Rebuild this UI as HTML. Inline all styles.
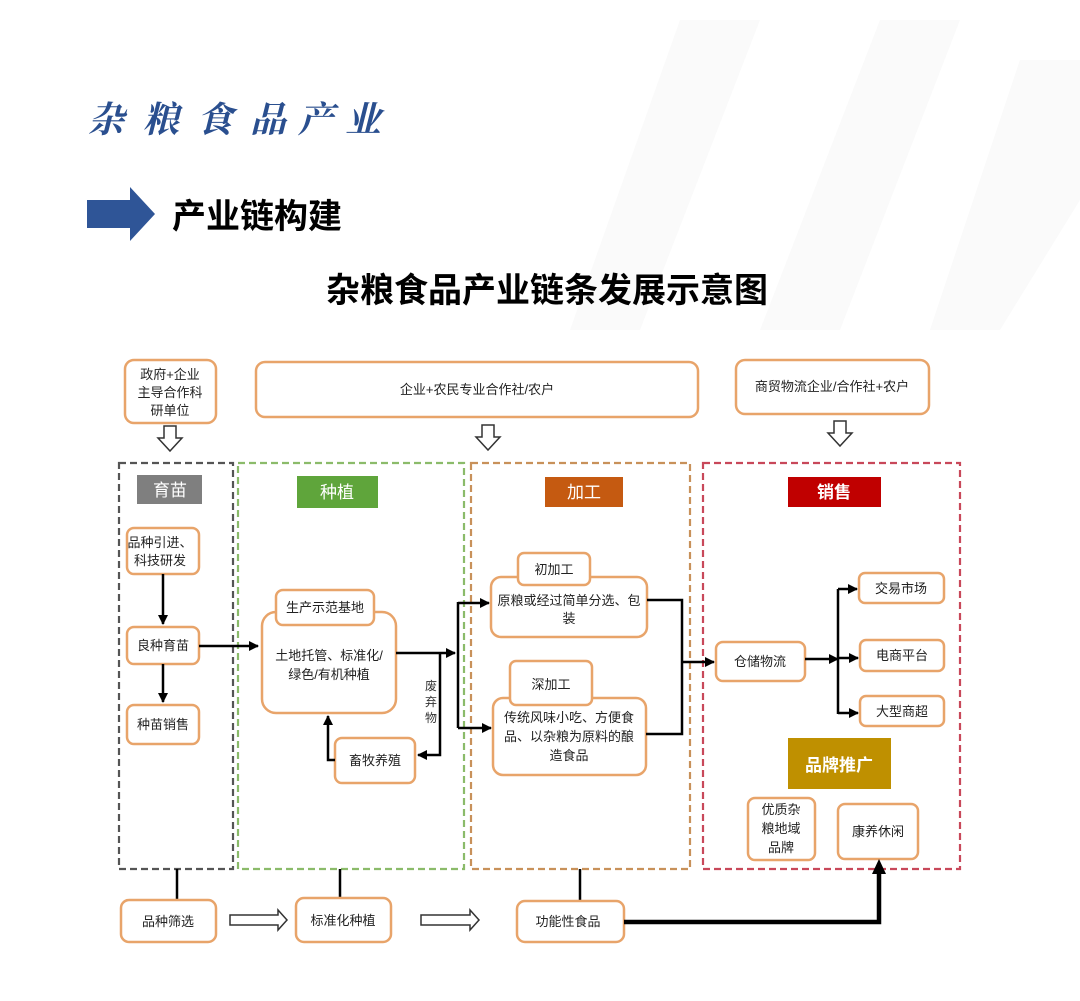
<!DOCTYPE html>
<html><head><meta charset="utf-8">
<style>
html,body{margin:0;padding:0;background:#fff;}
svg{display:block;font-family:"Liberation Sans","Noto Sans CJK SC",sans-serif;}
.b{fill:#fff;stroke:#e8a46a;stroke-width:2.5;}
.t{font-size:13px;fill:#222;text-anchor:middle;}
.ln{stroke:#000;stroke-width:2.5;fill:none;}
.lab{font-size:17px;fill:#fff;text-anchor:middle;}
</style></head><body>
<svg width="1080" height="1001" viewBox="0 0 1080 1001" xmlns="http://www.w3.org/2000/svg">
<defs>
<marker id="a" viewBox="0 0 10 10" refX="9" refY="5" markerWidth="4" markerHeight="4" orient="auto"><path d="M0,0L10,5L0,10z" fill="#000"/></marker>
</defs>
<rect width="1080" height="1001" fill="#fff"/>
<polygon points="680,20 760,20 640,330 570,330" fill="#fafafa"/>
<polygon points="880,20 960,20 840,330 760,330" fill="#fafafa"/>
<polygon points="1020,60 1080,60 1080,200 1000,330 930,330" fill="#fafafa"/>
<!-- header -->
<g font-family="'Noto Serif CJK SC',serif" font-size="36" font-weight="bold" fill="#2a4f8f" font-style="italic">
<text x="88" y="132">杂</text><text x="143" y="132">粮</text><text x="197" y="132">食</text><text x="250" y="132">品</text><text x="298" y="132">产</text><text x="345" y="132">业</text>
</g>
<polygon points="87,200 130,200 130,187 155,214 130,241 130,228 87,228" fill="#2f5597"/>
<text x="172" y="228" font-size="34" font-weight="bold" fill="#000">产业链构建</text>
<text x="547" y="302" font-size="34" font-weight="bold" fill="#000" text-anchor="middle">杂粮食品产业链条发展示意图</text>

<!-- top boxes -->
<rect class="b" x="125" y="360" width="91" height="63" rx="9"/>
<text class="t" x="170" y="379">政府+企业</text><text class="t" x="170" y="397">主导合作科</text><text class="t" x="170" y="415">研单位</text>
<rect class="b" x="256" y="362" width="442" height="55" rx="9"/>
<text class="t" x="477" y="394">企业+农民专业合作社/农户</text>
<rect class="b" x="736" y="360" width="193" height="54" rx="9"/>
<text class="t" x="832" y="391">商贸物流企业/合作社+农户</text>
<g fill="#fff" stroke="#333" stroke-width="1.5">
<polygon points="164,426 176,426 176,438 182,438 170,451 158,438 164,438"/>
<polygon points="482,425 494,425 494,437 500,437 488,450 476,437 482,437"/>
<polygon points="834,421 846,421 846,433 852,433 840,446 828,433 834,433"/>
</g>

<!-- columns -->
<g fill="none" stroke-width="2.2" stroke-dasharray="7,4">
<rect x="119" y="463" width="114" height="406" stroke="#555"/>
<rect x="238" y="463" width="226" height="406" stroke="#8bbb6a"/>
<rect x="471" y="463" width="219" height="406" stroke="#c8915a"/>
<rect x="703" y="463" width="257" height="406" stroke="#c8485a"/>
</g>
<rect x="137" y="475" width="65" height="29" fill="#7f7f7f"/><text class="lab" x="170" y="496">育苗</text>
<rect x="297" y="476" width="81" height="32" fill="#5fa53b"/><text class="lab" x="337" y="498">种植</text>
<rect x="545" y="477" width="78" height="30" fill="#c55a11"/><text class="lab" x="584" y="498">加工</text>
<rect x="788" y="477" width="93" height="30" fill="#c00000"/><text class="lab" x="834" y="498" font-weight="bold">销售</text>

<!-- 育苗 -->
<rect class="b" x="127" y="528" width="72" height="46" rx="7"/>
<text class="t" x="160" y="547">品种引进、</text><text class="t" x="160" y="565">科技研发</text>
<rect class="b" x="127" y="627" width="72" height="37" rx="7"/><text class="t" x="163" y="650">良种育苗</text>
<rect class="b" x="127" y="705" width="72" height="39" rx="7"/><text class="t" x="163" y="729">种苗销售</text>
<line class="ln" x1="163" y1="574" x2="163" y2="624" marker-end="url(#a)"/>
<line class="ln" x1="163" y1="664" x2="163" y2="702" marker-end="url(#a)"/>
<line class="ln" x1="199" y1="646" x2="258" y2="646" marker-end="url(#a)"/>

<!-- 种植 -->
<rect class="b" x="262" y="612" width="134" height="101" rx="14"/>
<rect class="b" x="276" y="590" width="98" height="35" rx="7"/>
<text class="t" x="325" y="612">生产示范基地</text>
<text class="t" x="329" y="660">土地托管、标准化/</text><text class="t" x="329" y="679">绿色/有机种植</text>
<rect class="b" x="335" y="738" width="80" height="45" rx="7"/><text class="t" x="375" y="765">畜牧养殖</text>
<g font-size="12" fill="#333" text-anchor="middle"><text x="431" y="690">废</text><text x="431" y="706">弃</text><text x="431" y="722">物</text></g>
<polyline class="ln" points="396,653 455,653" marker-end="url(#a)"/>
<polyline class="ln" points="440,653 440,755 418,755" marker-end="url(#a)"/>
<polyline class="ln" points="335,760 328,760 328,716" marker-end="url(#a)"/>
<line class="ln" x1="458" y1="602" x2="458" y2="728"/>
<line class="ln" x1="458" y1="603" x2="489" y2="603" marker-end="url(#a)"/>
<line class="ln" x1="458" y1="728" x2="491" y2="728" marker-end="url(#a)"/>

<!-- 加工 -->
<rect class="b" x="491" y="577" width="156" height="60" rx="10"/>
<rect class="b" x="518" y="553" width="72" height="32" rx="6"/>
<text class="t" x="554" y="574">初加工</text>
<text class="t" x="569" y="605">原粮或经过简单分选、包</text><text class="t" x="569" y="623">装</text>
<rect class="b" x="493" y="698" width="153" height="77" rx="10"/>
<rect class="b" x="510" y="661" width="82" height="44" rx="6"/>
<text class="t" x="551" y="689">深加工</text>
<text class="t" x="569" y="722">传统风味小吃、方便食</text><text class="t" x="569" y="741">品、以杂粮为原料的酿</text><text class="t" x="569" y="760">造食品</text>
<polyline class="ln" points="647,600 682,600 682,734 646,734"/>
<line class="ln" x1="682" y1="662" x2="714" y2="662" marker-end="url(#a)"/>

<!-- 销售 -->
<rect class="b" x="716" y="642" width="89" height="39" rx="7"/><text class="t" x="760" y="666">仓储物流</text>
<rect class="b" x="859" y="573" width="85" height="30" rx="6"/><text class="t" x="901" y="593">交易市场</text>
<rect class="b" x="860" y="640" width="84" height="31" rx="6"/><text class="t" x="902" y="660">电商平台</text>
<rect class="b" x="860" y="696" width="84" height="30" rx="6"/><text class="t" x="902" y="716">大型商超</text>
<line class="ln" x1="805" y1="659" x2="838" y2="659" marker-end="url(#a)"/>
<line class="ln" x1="838" y1="589" x2="838" y2="714"/>
<line class="ln" x1="838" y1="589" x2="857" y2="589" marker-end="url(#a)"/>
<line class="ln" x1="838" y1="658" x2="858" y2="658" marker-end="url(#a)"/>
<line class="ln" x1="838" y1="713" x2="858" y2="713" marker-end="url(#a)"/>
<rect x="788" y="738" width="103" height="51" fill="#bf9000"/>
<text x="839" y="771" font-size="17" font-weight="bold" fill="#fff" text-anchor="middle">品牌推广</text>
<rect class="b" x="748" y="798" width="67" height="62" rx="7"/>
<text class="t" x="781" y="814">优质杂</text><text class="t" x="781" y="833">粮地域</text><text class="t" x="781" y="852">品牌</text>
<rect class="b" x="838" y="804" width="80" height="55" rx="7"/><text class="t" x="878" y="836">康养休闲</text>

<!-- bottom -->
<line class="ln" x1="177" y1="869" x2="177" y2="900"/>
<line class="ln" x1="340" y1="869" x2="340" y2="898"/>
<line class="ln" x1="580" y1="869" x2="580" y2="901"/>
<rect class="b" x="121" y="900" width="95" height="42" rx="8"/><text class="t" x="168" y="926">品种筛选</text>
<rect class="b" x="296" y="898" width="95" height="44" rx="8"/><text class="t" x="343" y="925">标准化种植</text>
<rect class="b" x="517" y="901" width="107" height="41" rx="8"/><text class="t" x="568" y="926">功能性食品</text>
<g fill="#fff" stroke="#333" stroke-width="1.5">
<polygon points="230,915 278,915 278,910 287,920 278,930 278,925 230,925"/>
<polygon points="421,915 470,915 470,910 479,920 470,930 470,925 421,925"/>
</g>
<polyline points="624,922 879,922 879,872" fill="none" stroke="#000" stroke-width="4.5"/>
<polygon points="872,874 886,874 879,859" fill="#000"/>
</svg>
</body></html>
